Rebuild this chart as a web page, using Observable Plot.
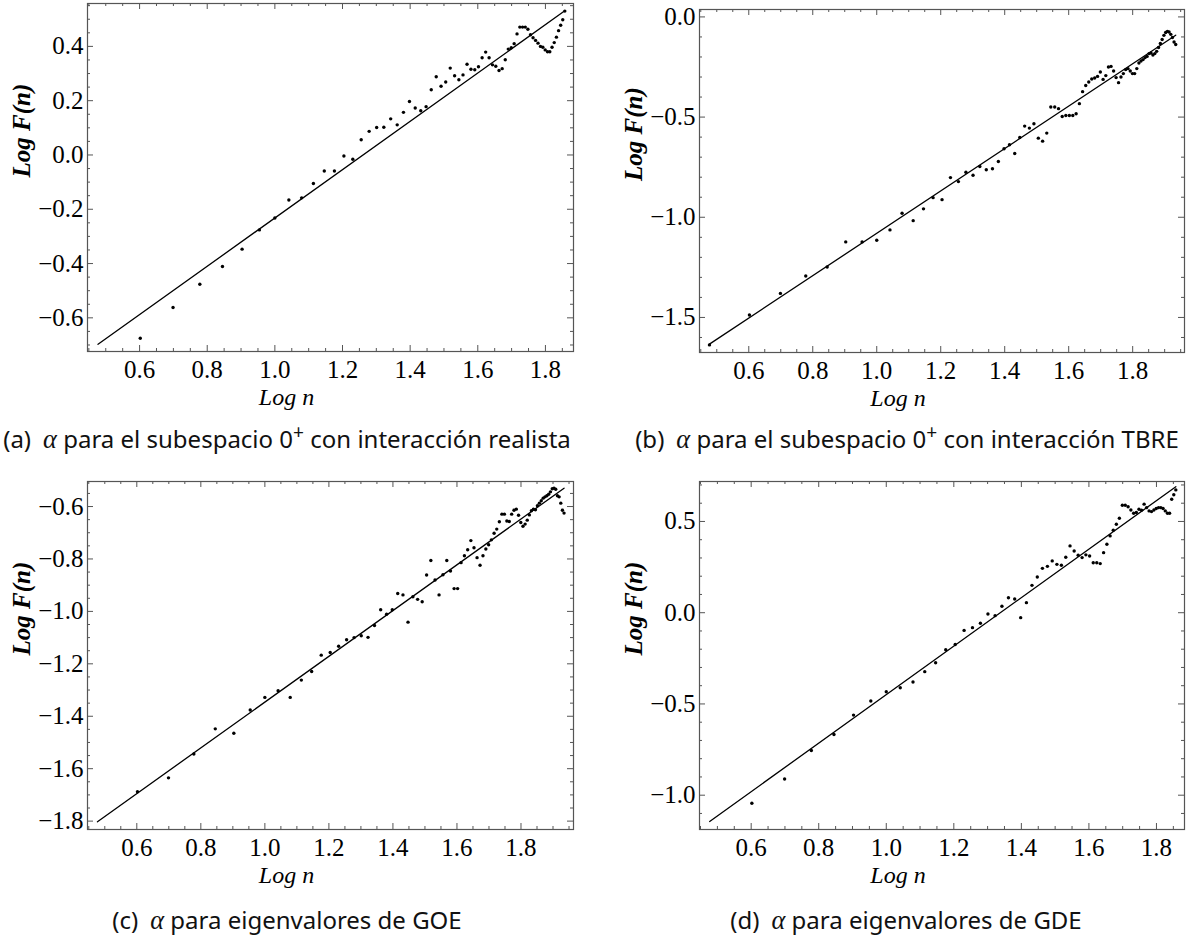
<!DOCTYPE html>
<html><head><meta charset="utf-8">
<script src="https://cdn.jsdelivr.net/npm/d3@7"></script>
<script src="https://cdn.jsdelivr.net/npm/@observablehq/plot@0.6"></script>
<style>
body{margin:0;background:#fff;}
#fig{position:relative;width:1191px;height:946px;background:#fff;overflow:hidden;}
.panel{position:absolute;}
.cap{position:absolute;font-family:"Noto Sans",sans-serif;font-size:24px;white-space:nowrap;transform:translate(-50%,-50%);color:#111;}
.cap .al{font-family:"Liberation Serif","Times New Roman","DejaVu Serif",serif;font-style:italic;font-size:1.1em;}
.cap sup{font-size:0.8em;vertical-align:0.42em;line-height:0;}
</style></head><body><div id="fig"></div>
<script>
// ---------- DATA ----------
// x = Log n (n consecutive integers), y = Log F(n)
const nStartA = 4;
const yA = [-0.675,-0.562,-0.476,-0.411,-0.347,-0.276,-0.232,-0.166,-0.158,-0.105,
  -0.059,-0.059,-0.004,-0.016,0.056,0.087,0.101,0.102,0.133,0.111,
  0.157,0.197,0.173,0.163,0.178,0.240,0.288,0.253,0.269,0.320,
  0.292,0.277,0.295,0.334,0.316,0.314,0.325,0.358,0.379,0.358,
  0.332,0.327,0.311,0.318,0.351,0.390,0.395,0.410,0.446,0.471,
  0.471,0.471,0.463,0.443,0.432,0.422,0.412,0.400,0.397,0.387,
  0.380,0.380,0.397,0.414,0.434,0.458,0.478,0.498,0.530];
const fitA = {slope: 0.890, intercept: -1.122, nFrom: 3, nTo: 72};

const nStartB = 3;
const yB = [-1.637,-1.488,-1.380,-1.293,-1.248,-1.123,-1.123,-1.115,-1.063,-0.980,
  -1.017,-0.958,-0.902,-0.912,-0.802,-0.822,-0.775,-0.790,-0.747,-0.763,
  -0.758,-0.722,-0.658,-0.638,-0.682,-0.602,-0.545,-0.555,-0.533,-0.605,
  -0.620,-0.580,-0.450,-0.450,-0.458,-0.497,-0.492,-0.492,-0.492,-0.483,
  -0.433,-0.373,-0.342,-0.325,-0.310,-0.305,-0.297,-0.275,-0.312,-0.293,
  -0.250,-0.247,-0.270,-0.303,-0.328,-0.300,-0.283,-0.263,-0.258,-0.270,
  -0.283,-0.283,-0.258,-0.230,-0.220,-0.213,-0.203,-0.197,-0.183,-0.180,
  -0.190,-0.183,-0.172,-0.153,-0.133,-0.113,-0.092,-0.078,-0.072,-0.075,
  -0.087,-0.103,-0.125,-0.138];
const fitB = {slope: 1.058, intercept: -2.138, nFrom: 3, nTo: 86};

const nStartC = 4;
const yC = [-1.688,-1.635,-1.544,-1.448,-1.465,-1.376,-1.328,-1.303,-1.328,-1.262,
  -1.229,-1.167,-1.157,-1.133,-1.108,-1.100,-1.093,-1.099,-1.054,-0.994,
  -1.011,-0.994,-0.932,-0.937,-1.041,-0.944,-0.954,-0.963,-0.861,-0.806,
  -0.880,-0.937,-0.860,-0.806,-0.846,-0.913,-0.913,-0.814,-0.788,-0.765,
  -0.730,-0.757,-0.795,-0.824,-0.788,-0.762,-0.746,-0.727,-0.702,-0.686,
  -0.658,-0.629,-0.629,-0.655,-0.657,-0.629,-0.614,-0.610,-0.633,-0.661,
  -0.675,-0.667,-0.652,-0.632,-0.616,-0.610,-0.612,-0.597,-0.587,-0.578,
  -0.568,-0.563,-0.559,-0.553,-0.544,-0.532,-0.530,-0.534,-0.559,-0.563,
  -0.587,-0.614,-0.625];
const fitC = {slope: 0.873, intercept: -2.219, nFrom: 3, nTo: 86};

const nStartD = 4;
const yD = [-1.044,-0.911,-0.755,-0.667,-0.561,-0.484,-0.433,-0.411,-0.380,-0.323,
  -0.274,-0.203,-0.174,-0.097,-0.082,-0.058,-0.007,-0.016,0.035,0.082,
  0.075,-0.027,0.055,0.150,0.196,0.243,0.254,0.284,0.265,0.260,
  0.304,0.366,0.338,0.315,0.302,0.317,0.311,0.274,0.274,0.269,
  0.329,0.375,0.421,0.452,0.485,0.518,0.589,0.589,0.581,0.563,
  0.545,0.549,0.567,0.562,0.595,0.576,0.558,0.554,0.563,0.571,
  0.576,0.576,0.571,0.558,0.545,0.545,0.622,0.646,0.673];
const fitD = {slope: 1.329, intercept: -1.778, nFrom: 3, nTo: 72};

// tick labels
const xTicks = [0.6, 0.8, 1.0, 1.2, 1.4, 1.6, 1.8];
const yTicksA = [-0.6, -0.4, -0.2, 0.0, 0.2, 0.4];
const yTicksB = [-1.5, -1.0, -0.5, 0.0];
const yTicksC = [-1.8, -1.6, -1.4, -1.2, -1.0, -0.8, -0.6];
const yTicksD = [-1.0, -0.5, 0.0, 0.5];

const xLabel = "Log n";
const yLabel = "Log F(n)";
const captions = [
  '(a)&ensp;<span class="al">α</span> para el subespacio 0<sup>+</sup> con interacción realista',
  '(b)&ensp;<span class="al">α</span> para el subespacio 0<sup>+</sup> con interacción TBRE',
  '(c)&ensp;<span class="al">α</span> para eigenvalores de GOE',
  '(d)&ensp;<span class="al">α</span> para eigenvalores de GDE'
];

// ---------- LAYOUT ----------
const panels = [
  {nStart: nStartA, y: yA, fit: fitA, yTicks: yTicksA, yMinor: 0.05,
   xDomain: [0.446, 1.883], yDomain: [-0.724, 0.558],
   left: 0, top: 0, mL: 87, mT: 3, pw: 486, ph: 348, cap: captions[0], capX: 287, capY: 438},
  {nStart: nStartB, y: yB, fit: fitB, yTicks: yTicksB, yMinor: 0.1,
   xDomain: [0.446, 1.962], yDomain: [-1.675, 0.037],
   left: 600, top: 0, mL: 99, mT: 9, pw: 485, ph: 343, cap: captions[1], capX: 907, capY: 438},
  {nStart: nStartC, y: yC, fit: fitC, yTicks: yTicksC, yMinor: 0.05,
   xDomain: [0.446, 1.964], yDomain: [-1.832, -0.5045],
   left: 0, top: 460, mL: 87, mT: 21, pw: 486, ph: 348, cap: captions[2], capX: 287, capY: 919},
  {nStart: nStartD, y: yD, fit: fitD, yTicks: yTicksD, yMinor: 0.1,
   xDomain: [0.447, 1.883], yDomain: [-1.188, 0.719],
   left: 600, top: 460, mL: 99, mT: 21, pw: 485, ph: 348, cap: captions[3], capX: 906, capY: 919}
];

const frameColor = "#555";
const serif = '"Liberation Serif", "Times New Roman", Times, "DejaVu Serif", serif';
const fmt = d3.format(".1f");
const fig = document.getElementById("fig");

function stepTicks(lo, hi, step) {
  const out = [];
  for (let k = Math.ceil(lo / step - 1e-9); k * step <= hi + 1e-9; k++) out.push(+(k * step).toFixed(3));
  return out;
}

for (const p of panels) {
  const data = p.y.map((v, i) => ({x: Math.log10(p.nStart + i), y: v}));
  const fitLine = [p.fit.nFrom, p.fit.nTo].map(n => ({x: Math.log10(n), y: p.fit.slope * Math.log10(n) + p.fit.intercept}));
  const xMinor = stepTicks(p.xDomain[0], p.xDomain[1], 0.05).filter(v => !xTicks.some(t => Math.abs(t - v) < 1e-6));
  const yMinor = stepTicks(p.yDomain[0], p.yDomain[1], p.yMinor).filter(v => !p.yTicks.some(t => Math.abs(t - v) < 1e-6));
  const mR = 6, mB = 70;
  const W = p.mL + p.pw + mR, H = p.mT + p.ph + mB;
  const tickStyle = {stroke: frameColor, strokeWidth: 1};
  const svg = Plot.plot({
    width: W, height: H,
    marginLeft: p.mL, marginRight: mR, marginTop: p.mT, marginBottom: mB,
    style: {fontFamily: serif, background: "transparent", overflow: "visible", color: "black"},
    x: {domain: p.xDomain},
    y: {domain: p.yDomain},
    marks: [
      Plot.ruleX(xMinor, {...tickStyle, insetTop: p.ph - 3}),
      Plot.ruleX(xMinor, {...tickStyle, insetBottom: p.ph - 3}),
      Plot.ruleX(xTicks, {...tickStyle, insetTop: p.ph - 6}),
      Plot.ruleX(xTicks, {...tickStyle, insetBottom: p.ph - 6}),
      Plot.ruleY(yMinor, {...tickStyle, insetRight: p.pw - 3}),
      Plot.ruleY(yMinor, {...tickStyle, insetLeft: p.pw - 3}),
      Plot.ruleY(p.yTicks, {...tickStyle, insetRight: p.pw - 6}),
      Plot.ruleY(p.yTicks, {...tickStyle, insetLeft: p.pw - 6}),
      Plot.frame({stroke: frameColor, strokeWidth: 1.2}),
      Plot.line(fitLine, {x: "x", y: "y", stroke: "black", strokeWidth: 1.3}),
      Plot.dot(data, {x: "x", y: "y", r: 1.7, fill: "black", stroke: "none"}),
      Plot.axisX({ticks: xTicks, tickSize: 0, tickPadding: 9, tickFormat: fmt, label: null, fontSize: 25, fontFamily: serif, fill: "black"}),
      Plot.axisY({ticks: p.yTicks, tickSize: 0, tickPadding: 4, tickFormat: fmt, label: null, fontSize: 25, fontFamily: serif, fill: "black"}),
      Plot.text([xLabel], {text: d => d, frameAnchor: "bottom", dy: 53, dx: -44, fontStyle: "italic", fontSize: 24, fontFamily: serif, fill: "black"}),
      Plot.text([yLabel], {text: d => d, frameAnchor: "left", dx: -66, rotate: -90, fontStyle: "italic", fontWeight: "bold", fontSize: 25, fontFamily: serif, fill: "black"})
    ]
  });
  svg.classList.add("panel");
  svg.style.left = p.left + "px";
  svg.style.top = p.top + "px";
  fig.appendChild(svg);
  const cap = document.createElement("div");
  cap.className = "cap";
  cap.innerHTML = p.cap;
  cap.style.left = p.capX + "px";
  cap.style.top = p.capY + "px";
  fig.appendChild(cap);
}
</script>
</body></html>
